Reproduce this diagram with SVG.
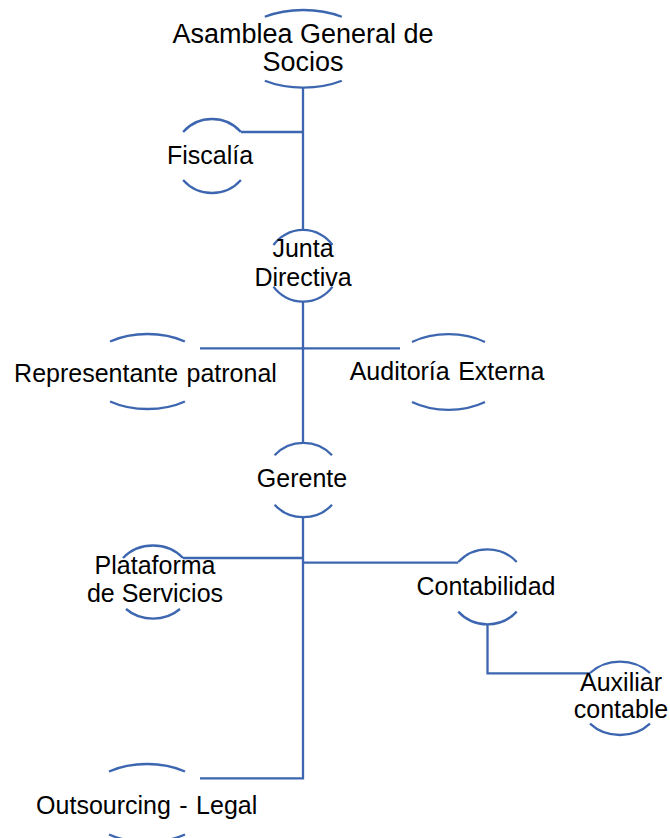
<svg xmlns="http://www.w3.org/2000/svg" width="670" height="838" viewBox="0 0 670 838">
<style>
.arc{fill:none;stroke:#3d66b0;stroke-width:2.3}
.con{fill:none;stroke:#3d66b0;stroke-width:2.3}
text{font-family:"Liberation Sans",Arial,sans-serif;font-size:25px;fill:#000;text-anchor:middle}
.big{font-size:27px}
.ws{word-spacing:1.5px}
</style>
<rect width="670" height="838" fill="#fff"/>
<g id="connectors">
<path class="con" d="M303 87.6V230"/>
<path class="con" d="M241 132H303"/>
<path class="con" d="M303 301.7V442.7"/>
<path class="con" d="M200 348.3H400"/>
<path class="con" d="M303 517V778.3H200"/>
<path class="con" d="M183 558H303"/>
<path class="con" d="M303 562.7H458.3"/>
<path class="con" d="M487.5 624.3V673.3H590"/>
</g>
<g id="asamblea">
<path class="arc" d="M264.8 16.8A68 38.8 0 0 1 341.8 16.8"/>
<path class="arc" d="M264.8 80.8A68 38.8 0 0 0 341.8 80.8"/>
<text class="big" x="303" y="42.5">Asamblea General de</text>
<text class="big" x="303" y="71">Socios</text>
</g>
<g id="fiscalia">
<path class="arc" d="M183.1 132A38 37 0 0 1 240.9 132"/>
<path class="arc" d="M183.1 180A38 37 0 0 0 240.9 180"/>
<text x="210" y="164.3">Fiscalía</text>
</g>
<g id="junta">
<path class="arc" d="M273.5 245A36.2 35.8 0 0 1 332.5 245"/>
<path class="arc" d="M273.5 286.6A36.2 35.8 0 0 0 332.5 286.6"/>
<text x="303" y="257.3">Junta</text>
<text x="303" y="285.7">Directiva</text>
</g>
<g id="representante">
<path class="arc" d="M110.1 341.5A62.3 37.5 0 0 1 184.9 341.5"/>
<path class="arc" d="M110.1 401.5A62.3 37.5 0 0 0 184.9 401.5"/>
<text class="ws" x="145.5" y="381.5">Representante patronal</text>
</g>
<g id="auditoria">
<path class="arc" d="M412 342A60 38 0 0 1 485 342"/>
<path class="arc" d="M412 402A60 38 0 0 0 485 402"/>
<text class="ws" x="447" y="380">Auditoría Externa</text>
</g>
<g id="gerente">
<path class="arc" d="M274.6 455.2A38.5 37.2 0 0 1 332 455.2"/>
<path class="arc" d="M274.6 504.8A38.5 37.2 0 0 0 332 504.8"/>
<text x="302" y="487.3">Gerente</text>
</g>
<g id="plataforma">
<path class="arc" d="M123 558A39.6 36 0 0 1 183 558"/>
<path class="arc" d="M126 609A39.6 36 0 0 0 180 609"/>
<text x="155" y="574.3">Plataforma</text>
<text x="155" y="601.7">de Servicios</text>
</g>
<g id="contabilidad">
<path class="arc" d="M458.3 562A38.9 37.5 0 0 1 516.7 562"/>
<path class="arc" d="M458.3 611.6A38.9 37.5 0 0 0 516.7 611.6"/>
<text x="486" y="595">Contabilidad</text>
</g>
<g id="auxiliar">
<path class="arc" d="M590 673A41.4 36.7 0 0 1 650 673"/>
<path class="arc" d="M590 723.6A41.4 36.7 0 0 0 650 723.6"/>
<text x="621" y="690.7">Auxiliar</text>
<text x="621" y="718.3">contable</text>
</g>
<g id="outsourcing">
<path class="arc" d="M109 771.5A64.4 39 0 0 1 185 771.5"/>
<path class="arc" d="M109 834.5A64.4 39 0 0 0 185 834.5"/>
<text class="ws" x="146.7" y="814.3">Outsourcing - Legal</text>
</g>
</svg>
